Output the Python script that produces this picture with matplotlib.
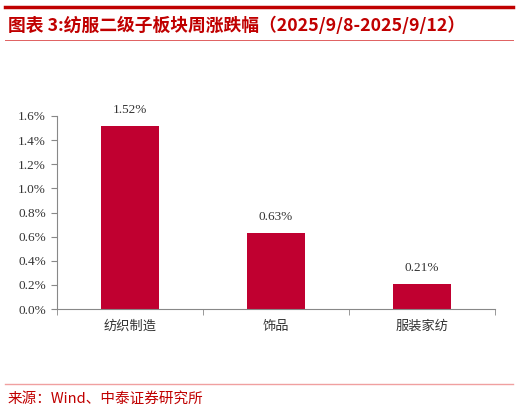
import matplotlib
matplotlib.use("Agg")
import matplotlib.pyplot as plt
from matplotlib.lines import Line2D
from matplotlib.ticker import FuncFormatter, FixedLocator

plt.rcParams['font.family'] = ['Noto Sans CJK SC', 'DejaVu Sans']

categories = ['纺织制造', '饰品', '服装家纺']
values = [1.52, 0.63, 0.21]
yticks = [0.0, 0.2, 0.4, 0.6, 0.8, 1.0, 1.2, 1.4, 1.6]
title = '图表 3:纺服二级子板块周涨跌幅（2025/9/8-2025/9/12）'
source = '来源：Wind、中泰证券研究所'

W, H = 519, 412
fig = plt.figure(figsize=(W / 100, H / 100), dpi=100)

bar_color = '#C00030'
red = '#C00000'

ax = fig.add_axes([57 / W, (H - 309) / H, (495 - 57) / W, (309 - 116) / H])
x = list(range(len(categories)))
ax.bar(x, values, width=0.4, color=bar_color)
ax.set_xlim(-0.5, len(categories) - 0.5)
ax.set_ylim(0, 1.6)
ax.set_yticks(yticks)
ax.yaxis.set_major_formatter(FuncFormatter(lambda v, p: f'{v:.1f}%'))
for lab in ax.get_yticklabels():
    lab.set_family(['Liberation Serif', 'DejaVu Serif'])
    lab.set_fontsize(9.5)
    lab.set_color('#333333')
ax.set_xticks(x)
ax.set_xticklabels(categories, fontsize=9.5, color='#333333')
ax.tick_params(axis='x', which='major', length=0, pad=8)
ax.xaxis.set_minor_locator(FixedLocator([-0.5, 0.5, 1.5, 2.5]))
ax.tick_params(axis='x', which='minor', length=4, color='#888888', direction='out')
ax.tick_params(axis='y', length=4, color='#888888', pad=4)
for s in ['top', 'right']:
    ax.spines[s].set_visible(False)
for s in ['left', 'bottom']:
    ax.spines[s].set_color('#888888')
    ax.spines[s].set_linewidth(0.8)

for xi, v in zip(x, values):
    ax.annotate(f'{v:.2f}%', (xi, v), xytext=(0, 7), textcoords='offset points',
                ha='center', va='bottom', fontsize=9.5, color='#333333',
                family=['Liberation Serif', 'DejaVu Serif'])

# decorations
fig.add_artist(Line2D([5 / W, 513 / W], [1 - 6.5 / H, 1 - 6.5 / H], color=red, lw=2.5,
                      transform=fig.transFigure))
fig.text(8 / W, 1 - 26 / H, title, fontsize=12.8, fontweight='bold', color=red,
         style='italic', va='center', ha='left')
fig.add_artist(Line2D([5 / W, 513 / W], [1 - 40 / H, 1 - 40 / H], color='#E06060', lw=0.7,
                      transform=fig.transFigure))
fig.add_artist(Line2D([5 / W, 513 / W], [1 - 384 / H, 1 - 384 / H], color='#F0A0A0', lw=1.0,
                      transform=fig.transFigure))
fig.text(8 / W, 1 - 399 / H, source, fontsize=10.5, color=red, va='center', ha='left')

fig.savefig('out.png', dpi=100)
